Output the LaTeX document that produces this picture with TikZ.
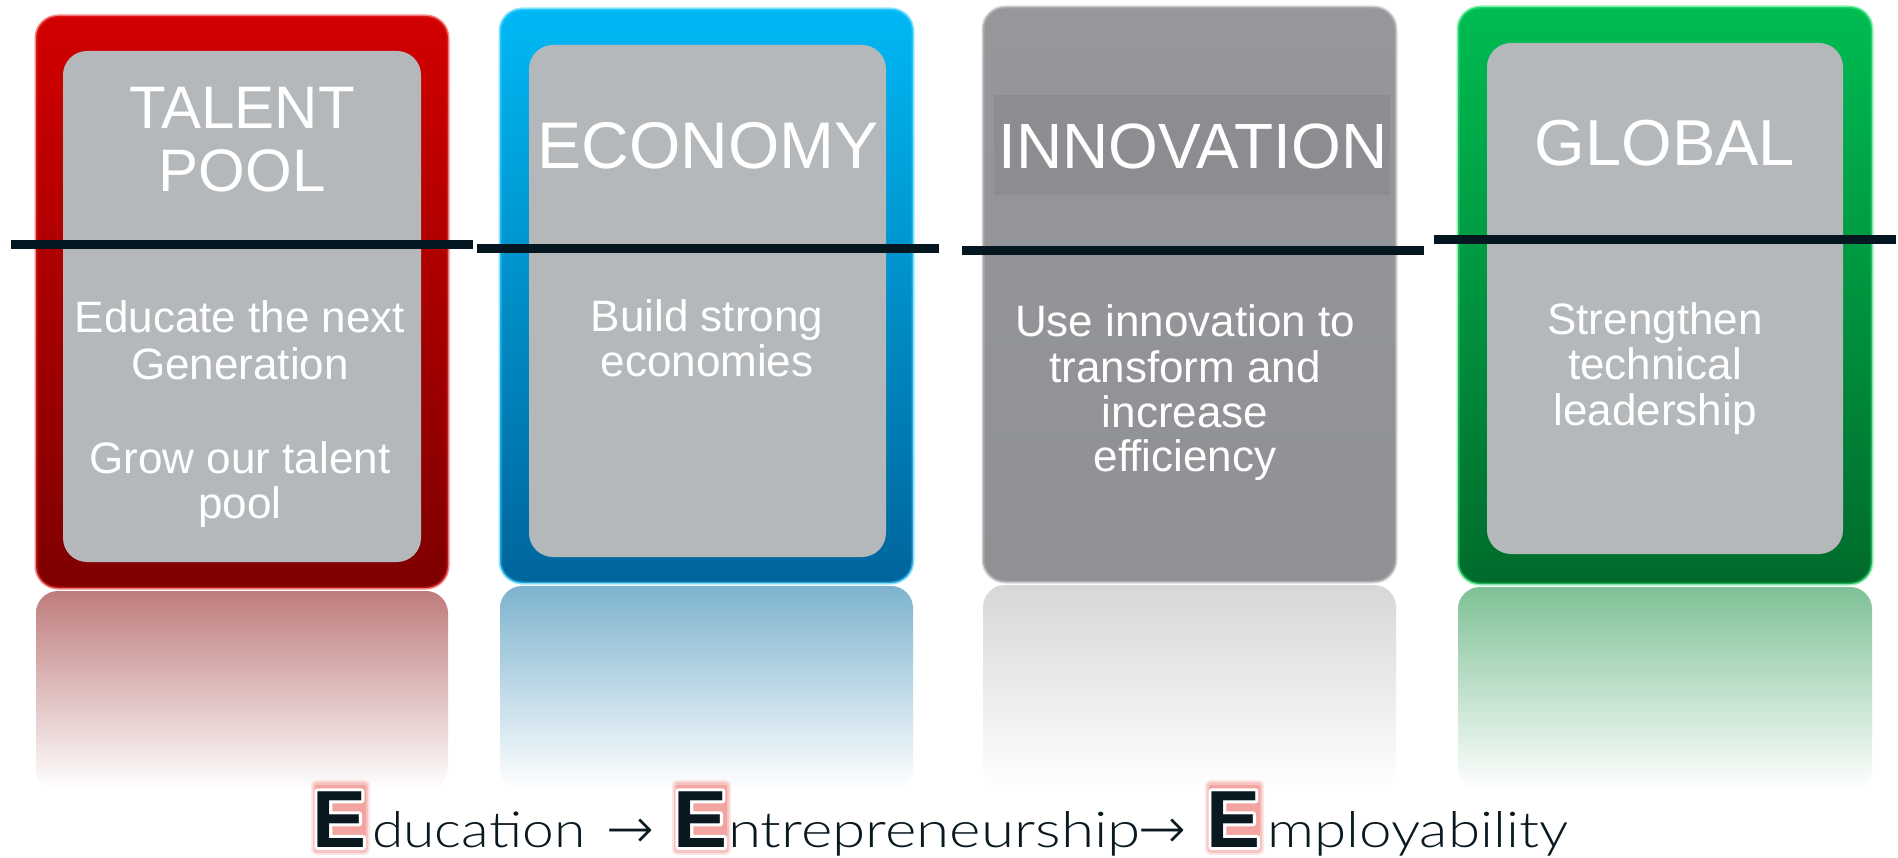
\documentclass[tikz,border=0pt]{standalone}
\usepackage{fontspec}
\setmainfont{Liberation Sans}
\IfFontExistsTF{Lato Light}{\newfontfamily\thinfont{Lato Light}}{\newfontfamily\thinfont{Lato}}
\IfFontExistsTF{DejaVu Sans ExtraLight}{\newfontfamily\arrowfont{DejaVu Sans ExtraLight}}{\newfontfamily\arrowfont{DejaVu Sans}}
\usetikzlibrary{calc}
\definecolor{innergray}{HTML}{B4B8BB}
\definecolor{redtop}{HTML}{D20000}
\definecolor{redbot}{HTML}{7E0000}
\definecolor{rededge}{HTML}{E82A2A}
\definecolor{redrefl}{HTML}{BF7C7C}
\definecolor{bluetop}{HTML}{00B8F4}
\definecolor{bluebot}{HTML}{00659C}
\definecolor{blueedge}{HTML}{3CD2FF}
\definecolor{bluerefl}{HTML}{7DB3CE}
\definecolor{graytop}{HTML}{95979A}
\definecolor{graybot}{HTML}{8F9194}
\definecolor{grayedge}{HTML}{B4B6B8}
\definecolor{grayrefl}{HTML}{D6D7D8}
\definecolor{grayband}{HTML}{8B8D90}
\definecolor{greentop}{HTML}{00BC52}
\definecolor{greenbot}{HTML}{006B2C}
\definecolor{greenedge}{HTML}{36E67A}
\definecolor{greenrefl}{HTML}{7FC196}
\definecolor{linecol}{HTML}{04161F}
\definecolor{textdark}{HTML}{0A1820}
\definecolor{glowpink}{HTML}{F29E98}
\tikzset{
  frame/.style={rounded corners=22, inner sep=0, line width=3, draw opacity=0.55},
  innerbox/.style={fill=innergray, rounded corners=24, inner sep=0},
  refl/.style={rounded corners=22, inner sep=0, bottom color=white},
  title/.style={anchor=base, text=white, inner sep=0, font=\fontsize{#1}{#1}\selectfont},
  body/.style={anchor=base, text=white, inner sep=0, font=\fontsize{44}{44}\selectfont},
  divline/.style={draw=linecol, line width=9},
  bigE/.style={anchor=base west, inner sep=0, font=\fontsize{81}{81}\selectfont\bfseries},
  small/.style={anchor=base west, inner sep=0, text=textdark},
}
\newcommand\glowE[1]{% #1 = glyph left x
  \fill[glowpink, opacity=0.25, rounded corners=6] (#1-7,780) rectangle (#1+52,855);
  \fill[glowpink, opacity=0.45, rounded corners=4] (#1-5,782) rectangle (#1+50,853);
  \fill[glowpink, opacity=0.8, rounded corners=2] (#1-3,785) rectangle (#1+48,850);
}
\newcommand\strokedE{\special{pdf:literal direct 1 Tr 6 w 1 j}E\special{pdf:literal direct 0 Tr}}
\newcommand\drawE[2]{% #1 name, #2 node x
  \node[bigE, text=white] (#1w) at (#2,847) {\strokedE};
  \node[bigE, text=textdark] (#1) at (#2,847) {E};
}
\begin{document}
\begin{tikzpicture}[x=1pt, y=-1pt]
\useasboundingbox (0,0) rectangle (1898,858);
\fill[white] (0,0) rectangle (1898,858);

% reflections
\node[refl, top color=redrefl, minimum width=412, minimum height=199] (redR) at (242,690.5) {};
\node[refl, top color=bluerefl, minimum width=413, minimum height=204] (blueR) at (706.5,688) {};
\node[refl, top color=grayrefl, minimum width=413, minimum height=205] (grayR) at (1189.5,687.5) {};
\node[refl, top color=greenrefl, minimum width=414, minimum height=203] (greenR) at (1665,688.5) {};

% frames
\node[frame, draw=rededge, top color=redtop, bottom color=redbot, minimum width=412, minimum height=572] (red) at (242,302) {};
\node[frame, draw=blueedge, top color=bluetop, bottom color=bluebot, minimum width=413, minimum height=574] (blue) at (706.5,296) {};
\node[frame, draw=grayedge, top color=graytop, bottom color=graybot, minimum width=413, minimum height=575] (gray) at (1189.5,294.5) {};
\node[frame, draw=greenedge, top color=greentop, bottom color=greenbot, minimum width=414, minimum height=577] (green) at (1665,295.5) {};

% inner panels
\node[innerbox, minimum width=358, minimum height=511] (redin) at (242,306.5) {};
\node[innerbox, minimum width=357, minimum height=512] (bluein) at (707.5,301) {};
\node[innerbox, minimum width=356, minimum height=511] (greenin) at (1665,298.5) {};
\node[fill=grayband, inner sep=0, minimum width=396, minimum height=100] (band) at (1192,145) {};

% titles
\node[title=60] (t1a) at (242,129) {TALENT};
\node[title=60] (t1b) at (242,192) {POOL};
\node[title=66] (t2) at (708,169) {ECONOMY};
\node[title=64] (t3) at (1193,169) {INNOVATION};
\node[title=65] (t4) at (1665,166) {GLOBAL};

% divider lines
\coordinate (l1a) at (11,244.5);  \coordinate (l1b) at (473,244.5);
\coordinate (l2a) at (477,249);   \coordinate (l2b) at (939,249);
\coordinate (l3a) at (962,251);   \coordinate (l3b) at (1424,251);
\coordinate (l4a) at (1434,240);  \coordinate (l4b) at (1896,240);
\draw[divline] (l1a) -- (l1b);
\draw[divline] (l2a) -- (l2b);
\draw[divline] (l3a) -- (l3b);
\draw[divline] (l4a) -- (l4b);

% body texts
\node[body] (b1a) at (240,333) {Educate the next};
\node[body] (b1b) at (240,380) {Generation};
\node[body] (b1c) at (240,473) {Grow our talent};
\node[body] (b1d) at (240,518) {pool};
\node[body] (b2a) at (707,332) {Build strong};
\node[body] (b2b) at (707,377) {economies};
\node[body] (b3a) at (1185,337) {Use innovation to};
\node[body] (b3b) at (1185,383) {transform and};
\node[body] (b3c) at (1185,427) {increase};
\node[body] (b3d) at (1185,471) {efficiency};
\node[body] (b4a) at (1655,335) {Strengthen};
\node[body] (b4b) at (1655,380) {technical};
\node[body] (b4c) at (1655,425) {leadership};

% bottom line
\glowE{318}
\glowE{679}
\glowE{1212}
\drawE{E1}{312}
\drawE{E2}{673}
\drawE{E3}{1206}
\node[small] (w1) at (372,847) {\resizebox{213pt}{36pt}{\thinfont ducation}};
\node[small] (a1) at (606,848) {\resizebox{48pt}{!}{\arrowfont →}};
\node[small] (w2) at (728,847) {\resizebox{412pt}{36pt}{\thinfont ntrepreneurship}};
\node[small] (a2) at (1138,848) {\resizebox{48pt}{!}{\arrowfont →}};
\node[small] (w3) at (1267,847) {\resizebox{301pt}{36pt}{\thinfont mployability}};
\end{tikzpicture}
\end{document}
